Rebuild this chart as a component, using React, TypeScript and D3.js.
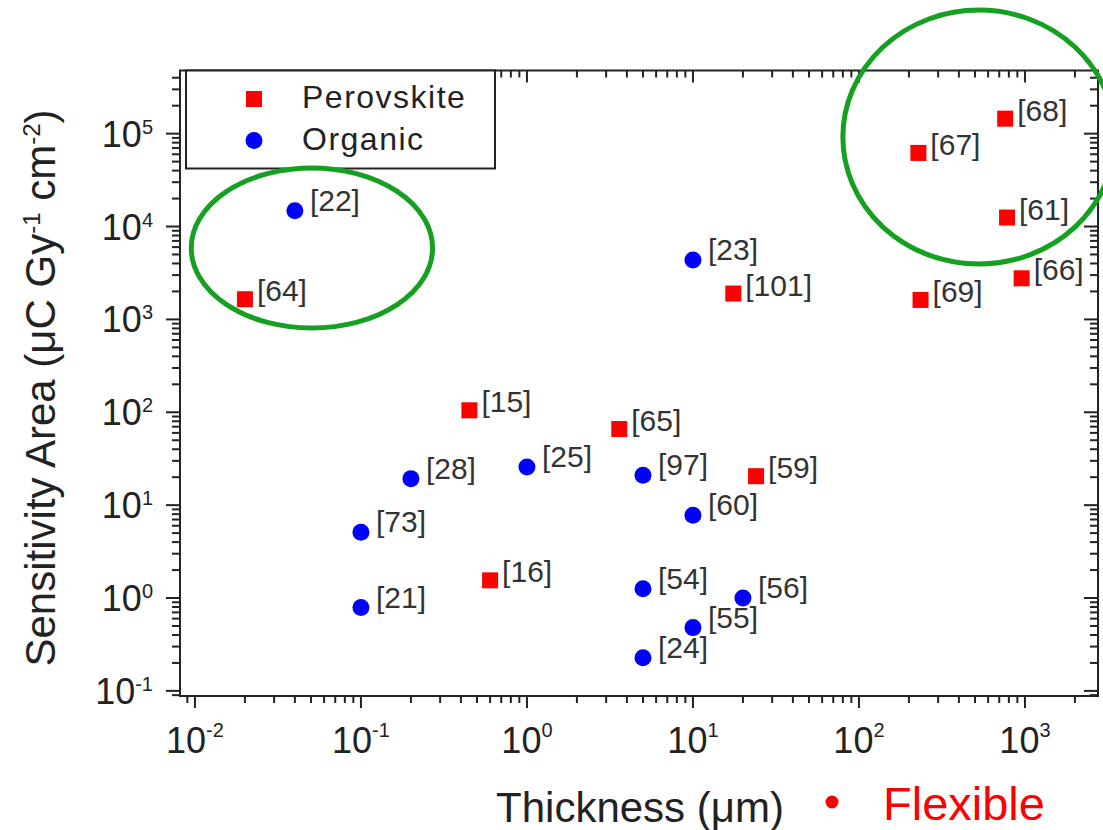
import * as d3 from 'd3'

// Perovskite detectors: reference, thickness (um), sensitivity area
const PEROV_REFS = ['[64]', '[15]', '[16]', '[65]', '[101]', '[59]', '[69]', '[67]', '[68]', '[61]', '[66]']
const PEROV_X = [0.02, 0.45, 0.6, 3.6, 17.5, 24, 235, 228, 760, 780, 955]
const PEROV_Y = [1650, 105, 1.55, 66, 1900, 20.5, 1620, 62000, 145000, 12500, 2770]

// Organic detectors
const ORG_REFS = ['[22]', '[28]', '[73]', '[21]', '[25]', '[97]', '[60]', '[54]', '[56]', '[55]', '[24]', '[23]']
const ORG_X = [0.04, 0.2, 0.1, 0.1, 1, 5, 10, 5, 20, 10, 5, 10]
const ORG_Y = [14800, 19.3, 5.1, 0.79, 25.7, 21, 7.8, 1.26, 1.0, 0.48, 0.228, 4350]

const X_DECADES = [-2, -1, 0, 1, 2, 3]
const Y_DECADES = [-1, 0, 1, 2, 3, 4, 5]
const LEGEND_LABELS = ['Perovskite', 'Organic']

// green rings marking the flexible devices, as data-space extents
const RING_X = [[0.0095, 0.27], [80, 3490]]
const RING_Y = [[807, 42700], [3950, 2.14e6]]

const FONT = '"Liberation Sans", Arial, sans-serif'
const RED = '#ff0000'
const BLUE = '#0000ff'
const GREEN = '#16a021'
const INK = '#222'

const L = 180, R = 1098, T = 70.5, B = 696

export default function App() {
  const x = d3.scaleLog().domain([10 ** -2.09, 10 ** 3.44]).range([L, R])
  const y = d3.scaleLog().domain([10 ** -1.055, 10 ** 5.68]).range([B, T])

  // major + minor log ticks inside the domain
  const ticksFor = (scale: d3.ScaleLogarithmic<number, number>) => {
    const [d0, d1] = scale.domain()
    const out: { v: number; major: boolean }[] = []
    for (let e = -4; e <= 7; e++) {
      for (let k = 1; k <= 9; k++) {
        const v = k * 10 ** e
        if (v >= d0 && v <= d1) out.push({ v, major: k === 1 })
      }
    }
    return out
  }
  const xt = ticksFor(x)
  const yt = ticksFor(y)

  const perov = PEROV_X.map((v, i) => ({ x: v, y: PEROV_Y[i], ref: PEROV_REFS[i] }))
  const org = ORG_X.map((v, i) => ({ x: v, y: ORG_Y[i], ref: ORG_REFS[i] }))

  return (
    <svg width={1103} height={830} style={{ position: 'absolute', left: 0, top: 0 }} fontFamily={FONT}>
      <rect width={1103} height={830} fill="#fff" />

      {/* ticks: out on bottom/left, in on top/right */}
      {xt.map((t, i) => {
        const len = t.major ? 12 : 7
        const px = x(t.v)
        return (
          <g key={'xt' + i} stroke={INK} strokeWidth={2}>
            <line x1={px} x2={px} y1={B} y2={B + len} />
            <line x1={px} x2={px} y1={T} y2={T + len} />
          </g>
        )
      })}
      {yt.map((t, i) => {
        const len = t.major ? 14 : 8
        const py = y(t.v)
        return (
          <g key={'yt' + i} stroke={INK} strokeWidth={2}>
            <line x1={L} x2={L - len} y1={py} y2={py} />
            <line x1={R} x2={R - len} y1={py} y2={py} />
          </g>
        )
      })}

      <rect x={L} y={T} width={R - L} height={B - T} fill="none" stroke={INK} strokeWidth={2} />

      {/* tick labels */}
      {X_DECADES.map((d) => (
        <text key={'xl' + d} x={x(10 ** d)} y={753} textAnchor="middle" fontSize={36} fill={INK}>
          10<tspan dy={-16} fontSize={20}>{d}</tspan>
        </text>
      ))}
      {Y_DECADES.map((d) => (
        <text key={'yl' + d} x={153} y={y(10 ** d) + 13} textAnchor="end" fontSize={36} fill={INK}>
          10<tspan dy={-13} fontSize={20}>{d}</tspan>
        </text>
      ))}

      {/* axis titles */}
      <text x={640} y={822} textAnchor="middle" fontSize={42} fill={INK}>Thickness (μm)</text>
      <text transform="translate(55,388) rotate(-90)" textAnchor="middle" fontSize={42} fill={INK}>
        Sensitivity Area (μC Gy<tspan dy={-15} fontSize={24}>-1</tspan>
        <tspan dy={15}> cm</tspan>
        <tspan dy={-15} fontSize={24}>-2</tspan>
        <tspan dy={15}>)</tspan>
      </text>

      {/* legend */}
      <rect x={186} y={T} width={309} height={98} fill="#fff" stroke={INK} strokeWidth={2} />
      <rect x={246} y={91} width={16} height={16} fill={RED} />
      <circle cx={254} cy={140.5} r={8.5} fill={BLUE} />
      {LEGEND_LABELS.map((s, i) => (
        <text key={s} x={302} y={108 + i * 42} fontSize={32} letterSpacing={1.5} fill={INK}>{s}</text>
      ))}

      {/* data */}
      {perov.map((d) => (
        <g key={'p' + d.ref}>
          <rect x={x(d.x) - 8} y={y(d.y) - 8} width={16} height={16} fill={RED} />
          <text x={x(d.x) + 12} y={y(d.y) + 2} fontSize={30} fill="#333">{d.ref}</text>
        </g>
      ))}
      {org.map((d) => (
        <g key={'o' + d.ref}>
          <circle cx={x(d.x)} cy={y(d.y)} r={8.5} fill={BLUE} />
          <text x={x(d.x) + 15} y={y(d.y)} fontSize={30} fill="#333">{d.ref}</text>
        </g>
      ))}

      {/* rings */}
      {RING_X.map((rx, i) => {
        const x0 = x(rx[0]), x1 = x(rx[1])
        const y0 = y(RING_Y[i][1]), y1 = y(RING_Y[i][0])
        return (
          <ellipse key={'ring' + i} cx={(x0 + x1) / 2} cy={(y0 + y1) / 2} rx={(x1 - x0) / 2} ry={(y1 - y0) / 2}
            fill="none" stroke={GREEN} strokeWidth={5} />
        )
      })}

      {/* flexible note */}
      <circle cx={832} cy={802} r={6.5} fill={RED} />
      <text x={883} y={820} fontSize={47} fill={RED}>Flexible</text>
    </svg>
  )
}
